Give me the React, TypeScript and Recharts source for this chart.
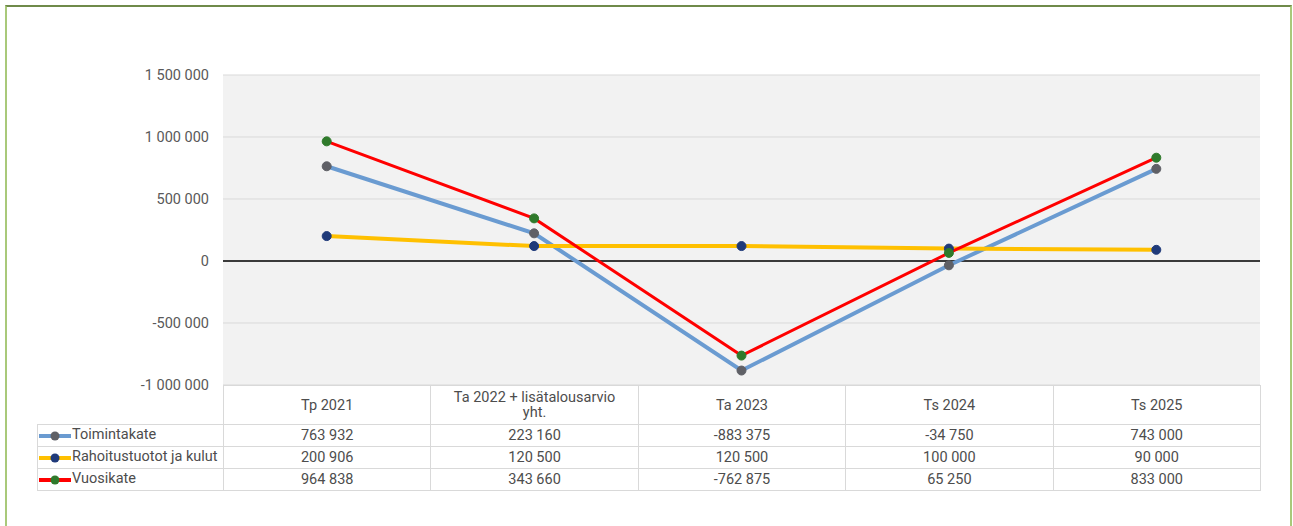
import React from 'react';
import { CartesianGrid, Line, LineChart, ReferenceLine, XAxis, YAxis } from 'recharts';

const categories = ['Tp 2021', 'Ta 2022 + lisätalousarvio yht.', 'Ta 2023', 'Ts 2024', 'Ts 2025'];
const toimintakate = [763932, 223160, -883375, -34750, 743000];
const rahoitus = [200906, 120500, 120500, 100000, 90000];
const vuosikate = [964838, 343660, -762875, 65250, 833000];
const yTicks = [-1000000, -500000, 0, 500000, 1000000, 1500000];

const series = [
  { key: 'toimintakate', name: 'Toimintakate', values: toimintakate, line: '#6a9bd1', dot: '#5f6066', width: 4 },
  { key: 'rahoitus', name: 'Rahoitustuotot ja kulut', values: rahoitus, line: '#ffc000', dot: '#1f3a7a', width: 4 },
  { key: 'vuosikate', name: 'Vuosikate', values: vuosikate, line: '#ff0000', dot: '#2f7a2b', width: 3 },
];

const data = categories.map((c, i) => ({
  name: c,
  toimintakate: toimintakate[i],
  rahoitus: rahoitus[i],
  vuosikate: vuosikate[i],
}));

const fmt = (v: number) => {
  const s = Math.abs(v).toString().replace(/\B(?=(\d{3})+(?!\d))/g, ' ');
  return v < 0 ? '-' + s : s;
};

const FONT = 'Roboto, "Liberation Sans", sans-serif';
const TEXT = '#4d4d4d';
const BORDER = '#d9d9d9';
const PLOT_LEFT = 223;
const PLOT_RIGHT = 1260;
const COL_W = (PLOT_RIGHT - PLOT_LEFT) / categories.length;

const cell: React.CSSProperties = {
  border: `1px solid ${BORDER}`,
  padding: 0,
  textAlign: 'center',
  fontSize: 14.5,
  color: TEXT,
  whiteSpace: 'nowrap',
};

const LegendKey = ({ line, dot }: { line: string; dot: string }) => (
  <svg width={32} height={10} style={{ verticalAlign: 'middle', marginRight: 1 }}>
    <line x1={0} y1={5} x2={32} y2={5} stroke={line} strokeWidth={4} />
    <circle cx={16} cy={5} r={4.5} fill={dot} />
  </svg>
);

const DataTable = () => (
  <table
    style={{
      position: 'absolute',
      left: 37,
      top: 385,
      borderCollapse: 'collapse',
      tableLayout: 'fixed',
      fontFamily: FONT,
      width: PLOT_RIGHT - 37,
    }}
  >
    <colgroup>
      <col style={{ width: PLOT_LEFT - 37 }} />
      {categories.map((c) => (
        <col key={c} style={{ width: COL_W }} />
      ))}
    </colgroup>
    <tbody>
      <tr style={{ height: 39 }}>
        <td style={{ ...cell, border: 'none', borderRight: `1px solid ${BORDER}` }} />
        {categories.map((c) => (
          <td key={c} style={{ ...cell, whiteSpace: 'normal', lineHeight: '15px' }}>
            <div style={{ maxWidth: 180, margin: '0 auto' }}>{c}</div>
          </td>
        ))}
      </tr>
      {series.map((s) => (
        <tr key={s.key} style={{ height: 22 }}>
          <td style={{ ...cell, textAlign: 'left', paddingLeft: 1, lineHeight: '20px' }}>
            <LegendKey line={s.line} dot={s.dot} />
            <span style={{ verticalAlign: 'middle' }}>{s.name}</span>
          </td>
          {s.values.map((v, i) => (
            <td key={i} style={{ ...cell, lineHeight: '20px' }}>
              {fmt(v)}
            </td>
          ))}
        </tr>
      ))}
    </tbody>
  </table>
);

export default function App() {
  return (
    <div style={{ position: 'absolute', left: 0, top: 0, width: 1293, height: 526, background: '#fff', overflow: 'hidden' }}>
      <div
        style={{
          position: 'absolute',
          left: 5,
          top: 5,
          width: 1287,
          height: 560,
          border: '2px solid #a9c97a',
          borderTop: '2px solid #6f8a4a',
          boxSizing: 'border-box',
        }}
      />
      <LineChart
        width={1293}
        height={526}
        data={data}
        margin={{ top: 75, right: 1293 - PLOT_RIGHT, bottom: 526 - 385, left: PLOT_LEFT - 200 }}
        style={{ position: 'absolute', left: 0, top: 0 }}
      >
        <CartesianGrid vertical={false} fill="#f2f2f2" stroke="#d9d9d9" strokeWidth={1} />
        <XAxis dataKey="name" hide padding={{ left: COL_W / 2, right: COL_W / 2 }} />
        <YAxis
          width={200}
          domain={[-1000000, 1500000]}
          ticks={yTicks}
          tickFormatter={fmt}
          axisLine={false}
          tickLine={false}
          tickSize={0}
          tickMargin={14}
          tick={{ fill: '#595959', fontSize: 14.5, fontFamily: FONT }}
        />
        <ReferenceLine y={0} stroke="#000" strokeWidth={1.3} />
        {series.map((s) => (
          <Line
            key={s.key}
            dataKey={s.key}
            name={s.name}
            stroke={s.line}
            strokeWidth={s.width}
            dot={{ r: 4.5, fill: s.dot, stroke: s.dot, strokeWidth: 1 }}
            activeDot={false}
            isAnimationActive={false}
            type="linear"
          />
        ))}
      </LineChart>
      <DataTable />
    </div>
  );
}
